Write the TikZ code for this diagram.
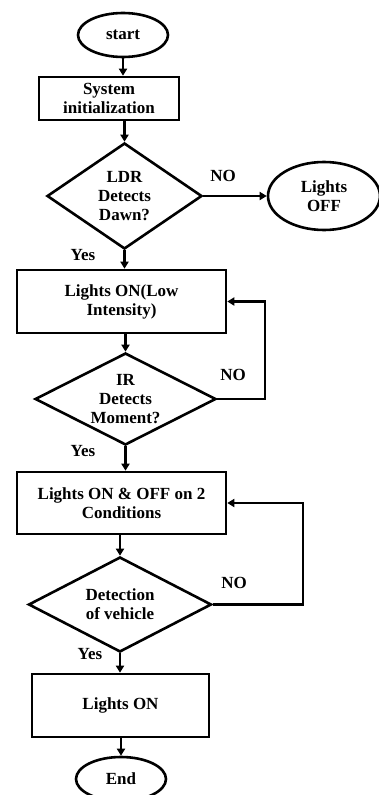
\documentclass[tikz,border=0pt]{standalone}
\usepackage{fontspec}
\setmainfont{Liberation Serif}
\usetikzlibrary{shapes.geometric,arrows.meta}
\tikzset{
  base/.style={draw=black,line width=2.6pt,inner sep=0pt,align=center,font=\bfseries\fontsize{17}{19}\selectfont},
  procbox/.style={base,rectangle},
  term/.style={base,ellipse},
  decide/.style={base,diamond},
  arr/.style={line width=2.6pt,-{Triangle[length=7pt,width=8pt]}},
  lbl/.style={font=\bfseries\fontsize{17}{19}\selectfont,inner sep=0pt}
}
\begin{document}
\begin{tikzpicture}[x=1pt,y=-1pt]
\useasboundingbox[fill=white] (0,0) rectangle (378,795);
\node[term,minimum width=90pt,minimum height=44pt] (start) at (123,35) {start};
\node[procbox,minimum width=140pt,minimum height=43pt] (sys) at (109,98.5) {System\\initialization};
\node[decide,minimum width=155pt,minimum height=106pt,
  label={[lbl,align=center]center:LDR\\Detects\\Dawn?}] (d1) at (124.5,196) {};
\node[term,minimum width=112pt,minimum height=68pt] (off) at (324,196) {Lights\\OFF};
\node[procbox,minimum width=209pt,minimum height=63pt] (b2) at (121.5,301.5) {Lights ON(Low\\Intensity)};
\node[decide,minimum width=181pt,minimum height=92pt,
  label={[lbl,align=center]center:IR\\Detects\\Moment?}] (d2) at (125.5,399) {};
\node[procbox,minimum width=209pt,minimum height=62pt] (b3) at (121.5,503) {Lights ON \& OFF on 2\\Conditions};
\node[decide,minimum width=183pt,minimum height=95pt,
  label={[lbl,align=center]center:Detection\\of vehicle}] (d3) at (120,604.5) {};
\node[procbox,minimum width=177pt,minimum height=63pt] (b4) at (120.5,705.5) {Lights ON};
\node[term,minimum width=90pt,minimum height=44pt] (end) at (121,779) {End};

\coordinate (c2) at (265,399);
\coordinate (c3) at (303,604.5);

\draw[arr] (start) -- (start |- sys.north);
\draw[arr] (d1 |- sys.south) -- (d1.north);
\draw[arr] (d1.east) -- (off.west);
\draw[arr] (d1.south) -- (d1.south |- b2.north);
\draw[arr] (d2 |- b2.south) -- (d2.north);
\draw[arr] (d2.east) -- (c2) |- (b2.east);
\draw[arr] (d2.south) -- (d2.south |- b3.north);
\draw[arr] (d3 |- b3.south) -- (d3.north);
\draw[arr] (d3.east) -- (c3) |- (b3.east);
\draw[arr] (d3.south) -- (d3.south |- b4.north);
\draw[arr] (end |- b4.south) -- (end.north);

\node[lbl] (no1) at (223,176) {NO};
\node[lbl] (yes1) at (83,255) {Yes};
\node[lbl] (no2) at (233,375) {NO};
\node[lbl] (yes2) at (83,451) {Yes};
\node[lbl] (no3) at (234,583) {NO};
\node[lbl] (yes3) at (90,654) {Yes};
\end{tikzpicture}
\end{document}
